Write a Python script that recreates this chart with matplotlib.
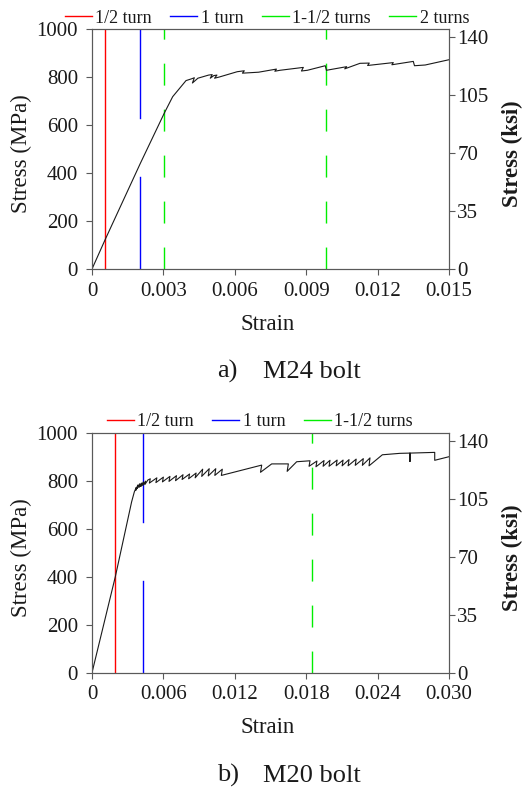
import matplotlib
matplotlib.use('Agg')
import matplotlib.pyplot as plt
from matplotlib.lines import Line2D

plt.rcParams['font.family'] = ['Liberation Serif', 'DejaVu Serif']

# a) M24 bolt : stress-strain curve (MPa)
m24_strain = [0, 0.00056, 0.00203, 0.00304, 0.00339, 0.00395, 0.00420, 0.00430, 0.00422,
              0.00445, 0.00490, 0.00505, 0.00497, 0.00512, 0.00525, 0.00515, 0.00535,
              0.00610, 0.00640, 0.00632, 0.00700, 0.00775, 0.00768, 0.00790, 0.00888,
              0.00880, 0.00905, 0.00980, 0.00985, 0.01070, 0.01062, 0.01126, 0.01165,
              0.01158, 0.01266, 0.01260, 0.01350, 0.01355, 0.01400, 0.01500]
m24_stress = [0, 124, 440, 650, 718, 785, 793, 797, 775,
              795, 808, 810, 795, 806, 808, 795, 800,
              822, 826, 816, 820, 833, 824, 828, 840,
              825, 828, 847, 828, 843, 834, 857, 858,
              848, 860, 851, 865, 847, 850, 872]
m24_turns = [0.00056, 0.00203, 0.00304, 0.00983]
m24_labels = ['1/2 turn', '1 turn', '1-1/2 turns', '2 turns']
m24_xticks = [0, 0.003, 0.006, 0.009, 0.012, 0.015]
m24_xticklabels = ['0', '0.003', '0.006', '0.009', '0.012', '0.015']

# b) M20 bolt
m20_strain = [0, 0.00196, 0.00333, 0.00356, 0.00372, 0.00368, 0.00385, 0.00380, 0.00400,
              0.00395, 0.00416, 0.00410, 0.00432, 0.00426, 0.00450, 0.00444, 0.00470,
              0.00490, 0.00482, 0.00545, 0.00537, 0.00600, 0.00592, 0.00655, 0.00647,
              0.00710, 0.00702, 0.00765, 0.00757, 0.00820, 0.00812, 0.00875, 0.00867,
              0.00930, 0.00922, 0.00985, 0.00977, 0.01040, 0.01032, 0.01095, 0.01087,
              0.01426, 0.01416, 0.01510, 0.01650, 0.01640, 0.01720, 0.01832, 0.01824,
              0.01890, 0.01882, 0.01950, 0.01942, 0.02000, 0.01992, 0.02060, 0.02052,
              0.02110, 0.02102, 0.02160, 0.02152, 0.02220, 0.02212, 0.02280, 0.02272,
              0.02336, 0.02328, 0.02440, 0.02588, 0.02672, 0.02672, 0.02672, 0.02880,
              0.02880, 0.03000]
m20_stress = [0, 400, 712, 754, 772, 760, 782, 768, 787,
              772, 790, 776, 795, 780, 798, 784, 803,
              808, 790, 812, 792, 815, 795, 818, 797,
              821, 800, 825, 805, 828, 808, 832, 812,
              848, 818, 850, 820, 850, 822, 848, 822,
              865, 835, 870, 870, 839, 879, 883, 860,
              882, 858, 884, 860, 885, 860, 886, 862,
              886, 862, 888, 862, 890, 864, 892, 864,
              895, 862, 908, 914, 915, 880, 915, 918,
              885, 900]
m20_turns = [0.00196, 0.00431, 0.01851]
m20_labels = ['1/2 turn', '1 turn', '1-1/2 turns']
m20_xticks = [0, 0.006, 0.012, 0.018, 0.024, 0.030]
m20_xticklabels = ['0', '0.006', '0.012', '0.018', '0.024', '0.030']

turn_colors = ['#ff0000', '#0000ff', '#00ee00', '#00ee00']
blue_gap = [383, 629]          # blue line is broken between these stresses
mpa_per_ksi = 6.895

frame = '#595959'
txt = '#1a1a1a'


def draw_panel(fig, rect, strain, stress, turns, labels, xticks, xticklabels, leg_x):
    ax = fig.add_axes(rect)
    ax.plot(strain, stress, color='#1a1a1a', lw=0.8, zorder=3)
    for i, x in enumerate(turns):
        c = turn_colors[i]
        if i == 0:
            ax.plot([x, x], [0, 1000], color=c, lw=1.0)
        elif i == 1:
            ax.plot([x, x], [0, blue_gap[0]], color=c, lw=1.0)
            ax.plot([x, x], [blue_gap[1], 1000], color=c, lw=1.0)
        else:
            ax.plot([x, x], [0, 1000], color=c, lw=1.0, linestyle=(0, (15.8, 17.3)))
    ax.set_xlim(0, xticks[-1])
    ax.set_ylim(0, 1000)
    ax.set_xticks(xticks)
    ax.set_xticklabels(xticklabels)
    ax.set_yticks([0, 200, 400, 600, 800, 1000])
    ax.tick_params(axis='x', direction='out', length=4, width=0.8, color=frame,
                   labelsize=15, labelcolor=txt, pad=5)
    ax.tick_params(axis='y', direction='out', length=4, width=0.8, color=frame,
                   labelsize=15, labelcolor=txt, pad=6)

    ax2 = ax.twinx()
    ax2.set_ylim(0, 1000 / mpa_per_ksi)
    ax2.set_yticks([0, 35, 70, 105, 140])
    ax2.tick_params(axis='y', direction='out', length=4, width=0.8, color=frame,
                    labelsize=15, labelcolor=txt, pad=2)
    for a in (ax, ax2):
        for s in a.spines.values():
            s.set_color(frame)
            s.set_linewidth(0.8)

    handles = [Line2D([], [], color=turn_colors[i], lw=1.0) for i in range(len(labels))]
    ax.legend(handles, labels, loc='lower center', bbox_to_anchor=(leg_x, 1.01),
              ncol=len(labels), frameon=False, fontsize=13, handlelength=1.5,
              handletextpad=0.2, columnspacing=1.0, borderpad=0, borderaxespad=0,
              labelcolor=txt)
    return ax


W, H = 523, 787
fig = plt.figure(figsize=(W / 100, H / 100), dpi=100)


def fx(px):
    return px / W


def fy(py):
    return 1 - py / H


panels = [
    (29, 269, m24_strain, m24_stress, m24_turns, m24_labels, m24_xticks, m24_xticklabels, 0.49, 'a)', 'M24 bolt'),
    (432.7, 672.7, m20_strain, m20_stress, m20_turns, m20_labels, m20_xticks, m20_xticklabels, 0.47, 'b)', 'M20 bolt'),
]

for top, bot, st, sr, tu, lb, xt, xtl, lx, tag, name in panels:
    rect = [fx(92), fy(bot), fx(449) - fx(92), (bot - top) / H]
    draw_panel(fig, rect, st, sr, tu, lb, xt, xtl, lx)
    mid = (top + bot) / 2 + 5
    fig.text(fx(21), fy(mid), 'Stress (MPa)', rotation=90, ha='center', va='center',
             fontsize=16.4, color=txt)
    fig.text(fx(512), fy(mid), 'Stress (ksi)', rotation=90, ha='center', va='center',
             fontsize=16.4, fontweight='bold', color=txt)
    fig.text(fx(268), fy(bot + 60.5), 'Strain', ha='center', va='baseline',
             fontsize=16.4, color=txt)
    fig.text(fx(217), fy(bot + 109), tag, ha='left', va='baseline', fontsize=19, color=txt)
    fig.text(fx(263), fy(bot + 109), name, ha='left', va='baseline', fontsize=19, color=txt)

fig.savefig('out.png', dpi=100)
